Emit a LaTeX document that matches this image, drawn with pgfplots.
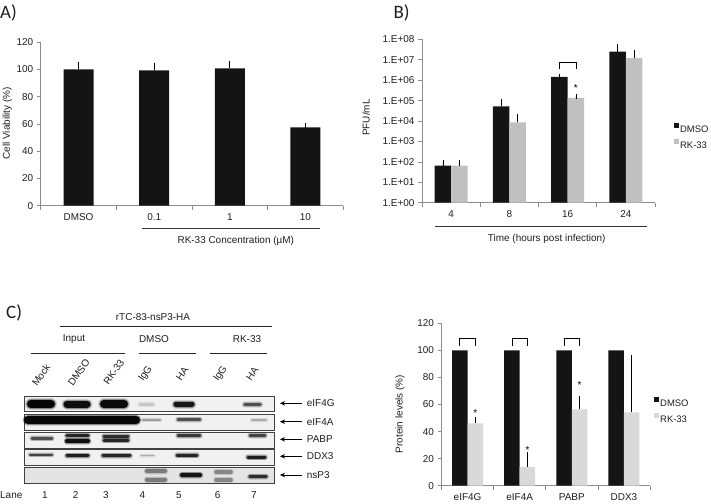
\documentclass[border=0pt]{standalone}
\usepackage{fontspec}
\setmainfont{Liberation Sans}
\newfontfamily\panelfont{Carlito}
\usepackage{pgfplots}
\pgfplotsset{compat=1.18}
\usetikzlibrary{arrows.meta}
\definecolor{barblack}{HTML}{141414}
\definecolor{grayB}{HTML}{C0C0C0}
\definecolor{grayC}{HTML}{D9D9D9}
\definecolor{axgray}{HTML}{8C8C8C}
\definecolor{txt}{HTML}{1E1E1E}
\definecolor{blotbg}{HTML}{F1F1F1}
\definecolor{blotbgB}{HTML}{E4E4E4}
\newcommand{\tf}{\fontsize{10}{12}\selectfont}
\pgfplotsset{
  excel/.style={
    scale only axis, clip=false,
    axis x line*=bottom, axis y line*=left,
    axis line style={axgray, line width=0.7bp, -},
    tick style={axgray, line width=0.7bp},
    tick align=outside,
    major tick length=4bp, minor tick length=4bp,
    major x tick style={draw=none},
    tick label style={font=\tf, text=txt},
    /pgf/number format/assume math mode=true,
    ybar,
    legend style={draw=none, fill=none, font=\fontsize{9.5}{11}\selectfont, text=txt,
      anchor=north west, row sep=6bp, inner sep=0pt,
      nodes={inner sep=0.8bp, text height=7bp, text depth=0bp}},
    legend cell align=left,
  },
  sqlegend/.style={legend image code/.code={\fill[##1,/tikz/.cd,yshift=1bp] (0bp,0bp) rectangle (5bp,5bp);}},
  eb/.style={error bars/.cd, y dir=plus, y explicit,
    error bar style={black, line width=0.7bp},
    error mark options={black, line width=0.7bp, mark size=2.5bp}},
}
\newcommand{\band}[6]{% x1 x2 y width opacity glowwidth
  \addplot[no marks, line cap=round, line width=#6bp, black, opacity=0.16*#5] coordinates {(#1,#3) (#2,#3)};
  \addplot[no marks, line cap=round, line width=#4bp+2bp, black, opacity=0.35*#5] coordinates {(#1,#3) (#2,#3)};
  \addplot[no marks, line cap=round, line width=#4bp, black, opacity=#5] coordinates {(#1,#3) (#2,#3)};
}
\begin{document}
\begin{tikzpicture}
\path[use as bounding box] (0bp,0bp) rectangle (711bp,-504bp);

% ---------- Western blot (pixel-mapped axis) ----------
\begin{axis}[at={(0bp,0bp)}, anchor=north west, scale only axis,
  width=711bp, height=504bp, xmin=0, xmax=711, ymin=0, ymax=504,
  y dir=reverse, hide axis, clip=false]
% panels
\addplot[fill=blotbg, draw=black!75, line width=0.8bp] coordinates {(24,396) (274,396) (274,411.7) (24,411.7)} -- cycle;
\addplot[fill=blotbg, draw=black!75, line width=0.8bp] coordinates {(24,414.3) (274,414.3) (274,430.7) (24,430.7)} -- cycle;
\addplot[fill=blotbg, draw=black!75, line width=0.8bp] coordinates {(24,432.3) (274,432.3) (274,448) (24,448)} -- cycle;
\addplot[fill=blotbg, draw=black!75, line width=0.8bp] coordinates {(24,449.5) (274,449.5) (274,465) (24,465)} -- cycle;
\addplot[fill=blotbgB, draw=black!75, line width=0.8bp] coordinates {(24,467.2) (274,467.2) (274,483.5) (24,483.5)} -- cycle;
% eIF4G
\band{31}{51}{404}{8}{0.95}{12}
\band{67}{87}{404}{7}{0.9}{11}
\band{104}{124}{404}{8}{0.92}{12}
\band{140}{153}{404}{3}{0.12}{6}
\band{176}{192}{404}{5}{0.85}{9}
\band{245}{260}{404.5}{3.5}{0.55}{7}
% eIF4A
\band{28}{136}{420}{8}{0.95}{11}
\band{143}{160}{419.5}{2}{0.25}{5}
\band{178}{200}{419.5}{2.5}{0.55}{6}
\band{252}{266}{420}{2}{0.2}{5}
% PABP
\band{32}{52}{438.3}{2.5}{0.55}{6}
\band{67}{88}{435.7}{3.5}{0.75}{6}
\band{67}{88}{441}{4}{0.9}{7}
\band{104}{128}{436}{3}{0.7}{6}
\band{104}{128}{440}{3}{0.75}{6}
\band{178}{200}{435.5}{2.5}{0.65}{6}
\band{250}{265}{435.5}{2.5}{0.6}{6}
% DDX3
\band{30}{52}{454.5}{2}{0.6}{5}
\band{67}{88}{455.7}{3}{0.8}{6}
\band{103}{130}{455.7}{3}{0.75}{6}
\band{141}{154}{455.7}{1.5}{0.2}{4}
\band{177}{197}{455.3}{2.5}{0.75}{6}
\band{248}{265}{457}{3}{0.8}{6}
% nsP3
\band{147}{165}{471}{4}{0.35}{7}
\band{147}{165}{479.5}{4}{0.35}{7}
\band{182}{200}{475}{4}{0.85}{7}
\band{216}{231}{472}{3.5}{0.3}{6}
\band{216}{231}{480}{3.5}{0.3}{6}
\band{250}{266}{476.5}{3.5}{0.7}{6}
\end{axis}

% ---------- Panel A ----------
\begin{axis}[excel, at={(40.7bp,-205.7bp)}, anchor=south west,
  width=302.6bp, height=163.4bp,
  xmin=-0.5, xmax=3.5, ymin=0, ymax=120,
  ytick={0,20,40,60,80,100,120},
  xtick={0,1,2,3}, xticklabels={DMSO,0.1,1,10},
  minor xtick={-0.5,0.5,1.5,2.5,3.5},
  bar width=30bp]
\addplot[fill=barblack, draw=none, eb] coordinates {(0,100.1) +- (0,3.6) (1,99.4) +- (0,3.8) (2,100.9) +- (0,3.6) (3,57.6) +- (0,1.5)};
\end{axis}

% ---------- Panel B ----------
\begin{axis}[excel, at={(422bp,-202.7bp)}, anchor=south west,
  width=233bp, height=163.4bp, ymode=log, log origin=infty,
  xmin=-0.5, xmax=3.5, ymin=1, ymax=1e8,
  ytick={1,10,100,1000,10000,100000,1000000,10000000,100000000},
  yticklabels={1.E+00,1.E+01,1.E+02,1.E+03,1.E+04,1.E+05,1.E+06,1.E+07,1.E+08},
  yminorticks=false,
  xtick={0,1,2,3}, xticklabels={4,8,16,24},
  minor xtick={-0.5,0.5,1.5,2.5,3.5},
  bar width=16.5bp, ybar=0pt, sqlegend,
  legend style={at={(1.082,0.49)}}]
\addplot[fill=barblack, draw=none, eb] coordinates {(0,66) +- (0,29) (1,52000) +- (0,41000) (2,1450000) +- (0,60000) (3,25000000) +- (0,17000000)};
\addplot[fill=grayB, draw=none, eb] coordinates {(0,66) +- (0,29) (1,8500) +- (0,7300) (2,135000) +- (0,25000) (3,12000000) +- (0,10000000)};
\legend{DMSO,RK-33}
\addplot[sharp plot, draw=black, line width=0.7bp, no marks, forget plot] coordinates {(1.8584,3400000) (1.8584,7740000) (2.1416,7740000) (2.1416,3400000)};
\node[font=\tf, inner sep=0] at (axis cs:2,410000) [xshift=8.25bp] {*};
\end{axis}

% ---------- Panel C (bar chart) ----------
\begin{axis}[excel, at={(441.5bp,-485.7bp)}, anchor=south west,
  width=208.5bp, height=162.4bp,
  xmin=-0.5, xmax=3.5, ymin=0, ymax=120,
  ytick={0,20,40,60,80,100,120},
  xtick={0,1,2,3}, xticklabels={eIF4G,eIF4A,PABP,DDX3},
  minor xtick={-0.5,0.5,1.5,2.5,3.5},
  bar width=15.5bp, ybar=0pt, sqlegend,
  legend style={at={(1.02,0.55)}}]
\addplot[fill=barblack, draw=none] coordinates {(0,100) (1,100) (2,100) (3,100)};
\addplot[fill=grayC, draw=none, eb] coordinates {(0,46.1) +- (0,2.9) (1,14.0) +- (0,8.7) (2,56.4) +- (0,8.2) (3,54.2) +- (0,40.4)};
\legend{DMSO,RK-33}
\addplot[sharp plot, draw=black, line width=0.7bp, no marks, forget plot] coordinates {(-0.1487,103.4) (-0.1487,108.9) (0.1487,108.9) (0.1487,103.4)};
\addplot[sharp plot, draw=black, line width=0.7bp, no marks, forget plot] coordinates {(0.8513,103.4) (0.8513,108.9) (1.1487,108.9) (1.1487,103.4)};
\addplot[sharp plot, draw=black, line width=0.7bp, no marks, forget plot] coordinates {(1.8513,103.4) (1.8513,108.9) (2.1487,108.9) (2.1487,103.4)};
\node[font=\tf, inner sep=0] at (axis cs:0.1487,53.5) {*};
\node[font=\tf, inner sep=0] at (axis cs:1.1487,26.4) {*};
\node[font=\tf, inner sep=0] at (axis cs:2.1487,74.4) {*};
\end{axis}

% ---------- annotations ----------
\begin{scope}[x=1bp, y=-1bp, every node/.style={inner sep=0pt, text=txt, font=\tf}]
\node[anchor=base west, font=\panelfont\fontsize{19}{20}\selectfont] at (0,18.3) {A)};
\node[anchor=base west, font=\panelfont\fontsize{19}{20}\selectfont] at (393.3,18.3) {B)};
\node[anchor=base west, font=\panelfont\fontsize{19}{20}\selectfont] at (6,318.3) {C)};
% A
\draw[black!80, line width=0.7bp] (141.7,228.5) -- (320,228.5);
\node at (235.8,240.7) {RK-33 Concentration (µM)};
\node[rotate=90] at (7.3,123.3) {Cell Viability (\%)};
% B
\draw[black!80, line width=0.7bp] (435,226) -- (646.7,226);
\node at (546.7,239.3) {Time (hours post infection)};
\node[rotate=90] at (366,117.5) {PFU/mL};
% C chart
\node[rotate=90] at (400,414) {Protein levels (\%)};
% blot headings
\node at (153,316.7) {rTC-83-nsP3-HA};
\draw[black!85, line width=0.7bp] (60,326.7) -- (271.7,326.7);
\node at (74,339.3) {Input};
\node at (154,339.3) {DMSO};
\node at (247,339.3) {RK-33};
\draw[black!85, line width=0.7bp] (30.7,353.3) -- (125,353.3);
\draw[black!85, line width=0.7bp] (139.3,353.3) -- (195.7,353.3);
\draw[black!85, line width=0.7bp] (210,353.3) -- (266.7,353.3);
\node[rotate=55, anchor=base west] at (37,387) {Mock};
\node[rotate=55, anchor=base west] at (73,387) {DMSO};
\node[rotate=55, anchor=base west] at (108.5,386) {RK-33};
\node[rotate=55, anchor=base west] at (143,382) {IgG};
\node[rotate=55, anchor=base west] at (181,382) {HA};
\node[rotate=55, anchor=base west] at (218,382) {IgG};
\node[rotate=55, anchor=base west] at (251,382) {HA};
% arrows + row labels
\foreach \yy/\lab in {403.3/eIF4G, 421.7/eIF4A, 439.3/PABP, 456.3/DDX3, 475/nsP3}{
  \draw[black, line width=0.7bp, -{Stealth[length=5bp,width=4.5bp]}] (301.7,\yy) -- (280,\yy);
  \node[anchor=west] at (306.7,\yy) {\lab};
}
\node[anchor=west] at (0,495) {Lane};
\foreach \xx/\n in {45/1, 75.7/2, 106/3, 142.3/4, 179/5, 217.7/6, 254/7}{
  \node at (\xx,495) {\n};
}
\end{scope}
\end{tikzpicture}
\end{document}
